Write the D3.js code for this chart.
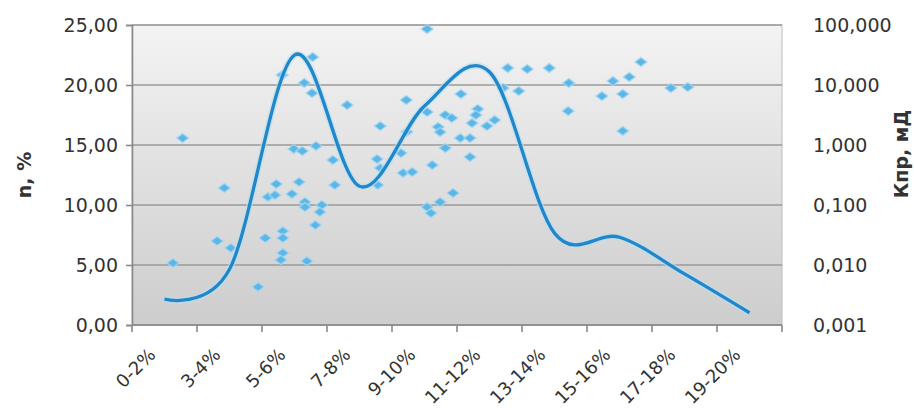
<!DOCTYPE html>
<html>
<head>
<meta charset="utf-8">
<script src="https://cdn.jsdelivr.net/npm/d3@7"></script>
<style>
  body { margin: 0; background: #fff; }
  svg { display: block; font-family: "DejaVu Sans", sans-serif; }
</style>
</head>
<body>
<div id="chart"></div>
<script>
// Data
const categories = ['0-2%', '3-4%', '5-6%', '7-8%', '9-10%', '11-12%', '13-14%', '15-16%', '17-18%', '19-20%']
// smoothed line, right axis (Кпр, мД)
const kprValues = [0.0027, 0.0085, 31.6, 0.205, 4.47, 16.5, 0.034, 0.029, 0.0071, 0.0016]

// scatter points: x in category units (0..10), y on left axis (n, %)
const scatterX = [0.78, 0.63, 1.42, 1.31, 1.52, 1.94, 2.05, 2.32, 2.32, 2.32, 2.29, 2.69, 2.09, 2.20, 2.22, 2.46,
  2.57, 2.66, 2.66, 2.92, 2.89, 2.82, 2.31, 2.78, 2.65, 2.77, 3.31, 2.49, 2.62, 2.83, 3.09, 3.12,
  3.78, 3.77, 3.82, 3.82, 4.14, 4.17, 4.31, 4.22, 4.54, 4.54, 4.71, 4.74, 4.82, 4.92, 4.82, 4.62,
  5.06, 5.05, 5.20, 5.20, 5.32, 5.29, 5.23, 5.46, 5.58, 4.94, 4.74, 4.54, 4.60, 5.71, 5.95, 5.78,
  6.08, 6.42, 6.72, 6.71, 7.23, 7.40, 7.55, 7.65, 7.83, 7.55, 8.29, 8.55, 4.23]
const scatterN = [15.58, 5.17, 11.42, 7.0, 6.42, 3.17, 7.25, 7.83, 7.25, 6.0, 5.42, 5.33, 10.67, 10.83, 11.75, 10.92,
  11.92, 10.25, 9.83, 10.0, 9.42, 8.33, 20.83, 22.33, 20.17, 19.33, 18.33, 14.67, 14.5, 14.92, 13.75, 11.67,
  11.67, 13.83, 13.08, 16.58, 14.33, 12.67, 12.75, 18.75, 24.67, 17.75, 16.5, 16.08, 17.5, 17.25, 14.75, 13.33,
  19.25, 15.58, 15.58, 14.0, 18.0, 17.5, 16.83, 16.58, 17.08, 11.0, 10.25, 9.83, 9.33, 19.75, 19.5, 21.42,
  21.33, 21.42, 20.17, 17.83, 19.08, 20.33, 19.25, 20.67, 21.92, 16.17, 19.75, 19.83, 16.1]

const leftTicks = [0, 5, 10, 15, 20, 25]
const rightTicks = [0.001, 0.01, 0.1, 1, 10, 100]

// Dimensions
const dimensions = {
  width: 914,
  height: 408,
  margin: { top: 25, right: 132, bottom: 83, left: 132 },
}
dimensions.ctrWidth = dimensions.width - dimensions.margin.left - dimensions.margin.right
dimensions.ctrHeight = dimensions.height - dimensions.margin.top - dimensions.margin.bottom

const ru = d3.formatLocale({ decimal: ',', thousands: ' ', grouping: [3], currency: ['', ''] })

const svg = d3.select('#chart')
  .append('svg')
  .attr('width', dimensions.width)
  .attr('height', dimensions.height)

const defs = svg.append('defs')
const grad = defs.append('linearGradient')
  .attr('id', 'bg')
  .attr('x1', 0).attr('y1', 0).attr('x2', 0).attr('y2', 1)
grad.append('stop').attr('offset', '0%').attr('stop-color', '#f3f3f3')
grad.append('stop').attr('offset', '100%').attr('stop-color', '#cdcdcd')

const ctr = svg.append('g')
  .attr('transform', `translate(${dimensions.margin.left}, ${dimensions.margin.top})`)

// Scales
const xBand = d3.scaleBand()
  .domain(categories)
  .range([0, dimensions.ctrWidth])

const xScatter = d3.scaleLinear()
  .domain([0, categories.length])
  .range([0, dimensions.ctrWidth])

const yLeft = d3.scaleLinear()
  .domain([0, 25])
  .range([dimensions.ctrHeight, 0])

const yRight = d3.scaleLog()
  .domain([0.001, 100])
  .range([dimensions.ctrHeight, 0])

// Plot area
ctr.append('rect')
  .attr('width', dimensions.ctrWidth)
  .attr('height', dimensions.ctrHeight)
  .attr('fill', 'url(#bg)')
  .attr('stroke', '#bdbdbd')
  .attr('stroke-width', 1)

// Grid
ctr.append('g')
  .selectAll('line')
  .data(leftTicks)
  .join('line')
  .attr('x1', 0)
  .attr('x2', dimensions.ctrWidth)
  .attr('y1', d => yLeft(d))
  .attr('y2', d => yLeft(d))
  .attr('stroke', '#9a9a9a')
  .attr('stroke-width', 1.7)

// Axes
const yAxisLeft = d3.axisLeft(yLeft)
  .tickValues(leftTicks)
  .tickSize(6)
  .tickPadding(8)
  .tickFormat(ru.format('.2f'))

const leftGroup = ctr.append('g').call(yAxisLeft)
leftGroup.select('.domain').attr('stroke', '#8a8a8a').attr('stroke-width', 1.6)
leftGroup.selectAll('.tick line').attr('stroke', '#8a8a8a').attr('stroke-width', 1.6)
leftGroup.selectAll('.tick text')
  .attr('font-size', 19)
  .attr('fill', '#333')
  .attr('font-family', '"DejaVu Sans", sans-serif')

const yAxisRight = d3.axisRight(yRight)
  .tickValues(rightTicks)
  .tickSize(0)
  .tickPadding(31)
  .tickFormat(ru.format('.3f'))

const rightGroup = ctr.append('g')
  .attr('transform', `translate(${dimensions.ctrWidth}, 0)`)
  .call(yAxisRight)
rightGroup.select('.domain').remove()
rightGroup.selectAll('.tick text')
  .attr('font-size', 19)
  .attr('fill', '#333')
  .attr('font-family', '"DejaVu Sans", sans-serif')

// bottom axis: ticks between categories
const bottomGroup = ctr.append('g')
  .attr('transform', `translate(0, ${dimensions.ctrHeight})`)
bottomGroup.append('line')
  .attr('x1', 0).attr('x2', dimensions.ctrWidth)
  .attr('stroke', '#8a8a8a').attr('stroke-width', 1.6)
bottomGroup.selectAll('.tk')
  .data(d3.range(categories.length + 1))
  .join('line')
  .attr('class', 'tk')
  .attr('x1', d => xScatter(d)).attr('x2', d => xScatter(d))
  .attr('y1', 0).attr('y2', 7)
  .attr('stroke', '#8a8a8a').attr('stroke-width', 1.6)
bottomGroup.selectAll('text')
  .data(categories)
  .join('text')
  .attr('transform', d => `translate(${xBand(d) + xBand.bandwidth() / 2 - 8}, 31) rotate(-45)`)
  .attr('text-anchor', 'end')
  .attr('font-size', 18)
  .attr('fill', '#333')
  .text(d => d)

// Scatter
const diamond = 'M0,-4.5L6,0L0,4.5L-6,0Z'
ctr.append('g')
  .selectAll('path')
  .data(scatterX.map((x, i) => ({ x, n: scatterN[i] })))
  .join('path')
  .attr('d', diamond)
  .attr('transform', d => `translate(${xScatter(d.x)}, ${yLeft(d.n)})`)
  .attr('fill', '#5db7e6')
  .attr('stroke', '#a6d9f3')
  .attr('stroke-width', 1.5)
  .attr('stroke-opacity', 0.7)

// Line
const lineGenerator = d3.line()
  .x((d, i) => xBand(categories[i]) + xBand.bandwidth() / 2)
  .y(d => yRight(d))
  .curve(d3.curveCardinal.tension(0))

ctr.append('path')
  .datum(kprValues)
  .attr('d', lineGenerator)
  .attr('fill', 'none')
  .attr('stroke', '#b9dff3')
  .attr('stroke-width', 6.5)
  .attr('stroke-opacity', 0.6)

ctr.append('path')
  .datum(kprValues)
  .attr('d', lineGenerator)
  .attr('fill', 'none')
  .attr('stroke', '#1f87ca')
  .attr('stroke-width', 3.3)

// Axis titles
svg.append('text')
  .attr('transform', 'translate(31, 175) rotate(-90)')
  .attr('text-anchor', 'middle')
  .attr('font-size', 19)
  .attr('font-weight', 'bold')
  .attr('fill', '#333')
  .text('n, %')

svg.append('text')
  .attr('transform', 'translate(908, 154) rotate(-90)')
  .attr('text-anchor', 'middle')
  .attr('font-size', 19)
  .attr('font-weight', 'bold')
  .attr('fill', '#333')
  .text('Кпр, мД')
</script>
</body>
</html>
